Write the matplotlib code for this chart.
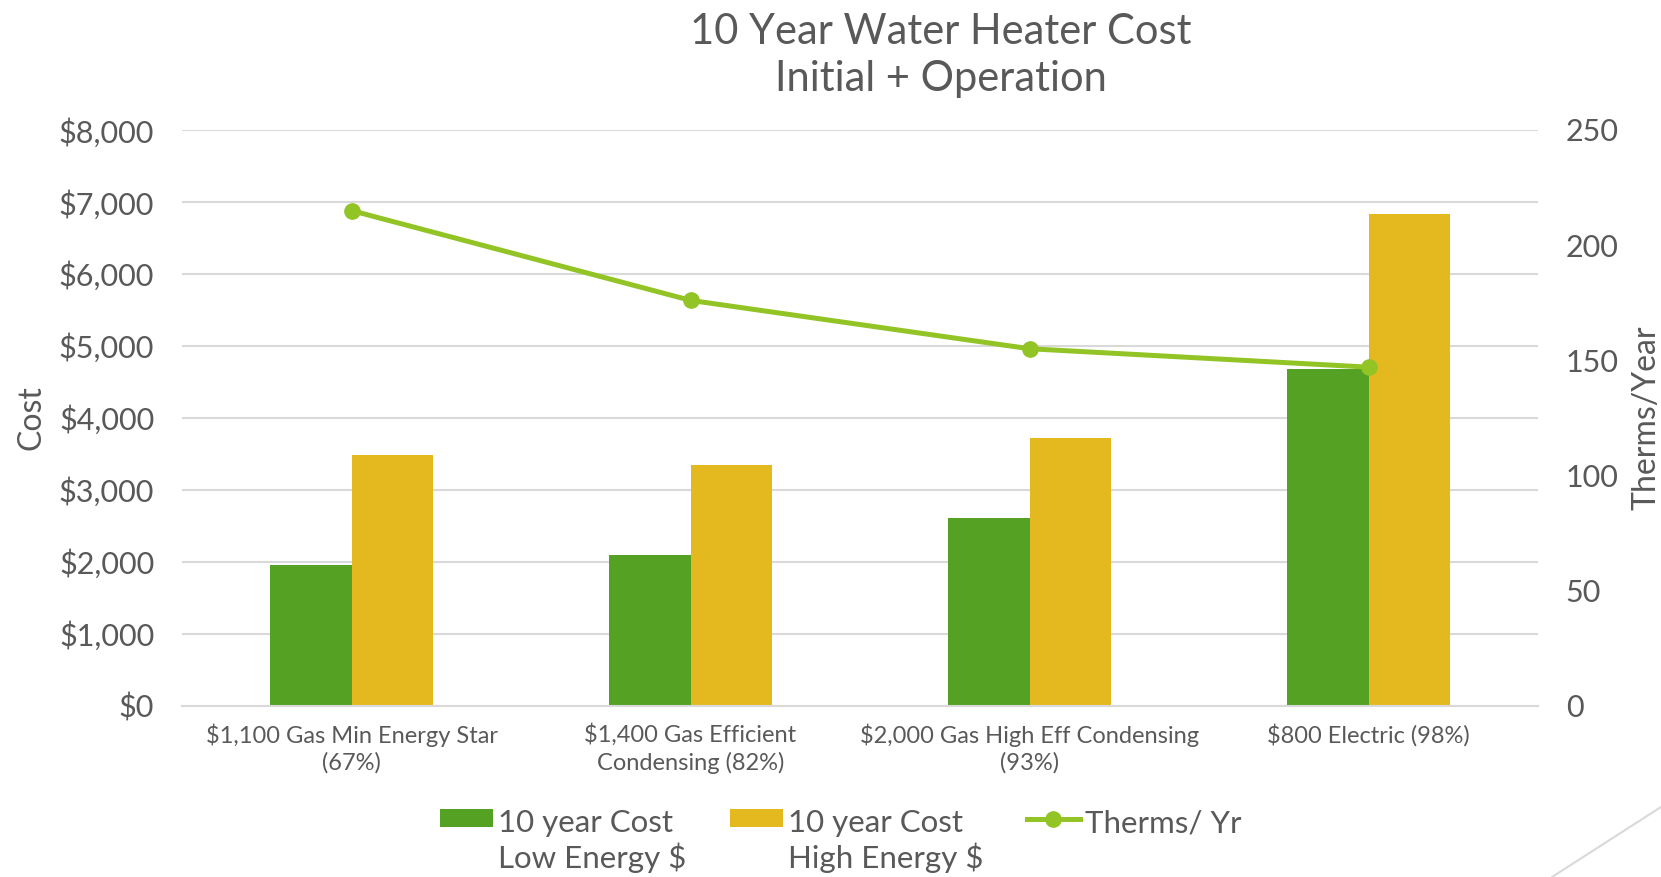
import matplotlib
matplotlib.use("Agg")
import matplotlib.pyplot as plt
import numpy as np
from matplotlib.lines import Line2D
from matplotlib.ticker import FuncFormatter

plt.rcParams['font.family'] = ['Lato', 'DejaVu Sans']

# ---- data ----
categories = [
    "$1,100 Gas Min Energy Star\n(67%)",
    "$1,400 Gas Efficient\nCondensing (82%)",
    "$2,000 Gas High Eff Condensing\n(93%)",
    "$800 Electric (98%)",
]
cost_low = [1955, 2095, 2613, 4677]
cost_high = [3480, 3342, 3718, 6830]
therms = [215, 176, 155, 147]

series_labels = ["10 year Cost\nLow Energy $", "10 year Cost\nHigh Energy $", "Therms/ Yr"]

# ---- style ----
c_low = "#55A123"
c_high = "#E4B920"
c_line = "#92C426"
c_grid = "#D9D9D9"
c_text = "#595959"

fig = plt.figure(figsize=(16.61, 8.77), dpi=100)
ax = fig.add_axes([182 / 1661, 1 - 705.6 / 877, (1538 - 182) / 1661, (705.6 - 130) / 877])
ax2 = ax.twinx()

x = np.arange(len(categories))
bw = 0.239
ax.bar(x - bw / 2, cost_low, width=bw, color=c_low, zorder=2, label=series_labels[0])
ax.bar(x + bw / 2, cost_high, width=bw, color=c_high, zorder=2, label=series_labels[1])
ax2.plot(x, therms, color=c_line, lw=3.6, marker='o', ms=11, zorder=3, label=series_labels[2])

ax.set_xlim(-0.5, 3.5)
ax.set_ylim(0, 8000)
ax.set_yticks(np.arange(0, 8001, 1000))
ax.yaxis.set_major_formatter(FuncFormatter(lambda v, p: f"${v:,.0f}"))
ax2.set_ylim(0, 250)
ax2.set_yticks(np.arange(0, 251, 50))

ax.grid(axis='y', color=c_grid, lw=1.5, zorder=0)
ax.set_axisbelow(True)
for a in (ax, ax2):
    for s in a.spines.values():
        s.set_visible(False)
ax.spines['bottom'].set_visible(True)
ax.spines['bottom'].set_color(c_grid)
ax.spines['bottom'].set_linewidth(1.5)

ax.set_xticks(x)
ax.set_xticklabels(categories, fontsize=17, color=c_text, linespacing=1.3)
ax.tick_params(axis='x', length=0, pad=13)
ax.tick_params(axis='y', length=0, pad=20, labelsize=22, labelcolor=c_text)
ax2.tick_params(axis='y', length=0, pad=20, labelsize=22, labelcolor=c_text)

fig.text(32 / 1661, 1 - 418 / 877, "Cost", rotation=90, ha='center', va='center',
         fontsize=23, color=c_text)
fig.text(1646 / 1661, 1 - 418 / 877, "Therms/Year", rotation=90, ha='center', va='center',
         fontsize=23, color=c_text)

fig.text(0.5665, 1 - 55.5 / 877, "10 Year Water Heater Cost\nInitial + Operation",
         ha='center', va='center', fontsize=30, color=c_text, linespacing=1.32)

h1, l1 = ax.get_legend_handles_labels()
h2, l2 = ax2.get_legend_handles_labels()
leg = fig.legend(h1 + h2, l1 + l2, loc='upper center', bbox_to_anchor=(0.506, 1 - 781 / 877),
                 ncol=3, frameon=False, fontsize=22.5, handlelength=1.7, handleheight=0.5,
                 handletextpad=0.15, columnspacing=1.4, labelcolor=c_text)
# put the handles next to the first line of each label
leg._legend_handle_box.align = "top"
for col in leg._legend_handle_box.get_children():
    col.align = "top"
    for row in col.get_children():
        row.align = "top"

# slide decoration in the corner
fig.add_artist(Line2D([1552 / 1661, 1.0], [0.0, 1 - 807 / 877], color=c_grid, lw=1.5))

fig.savefig("out.png", dpi=100)
